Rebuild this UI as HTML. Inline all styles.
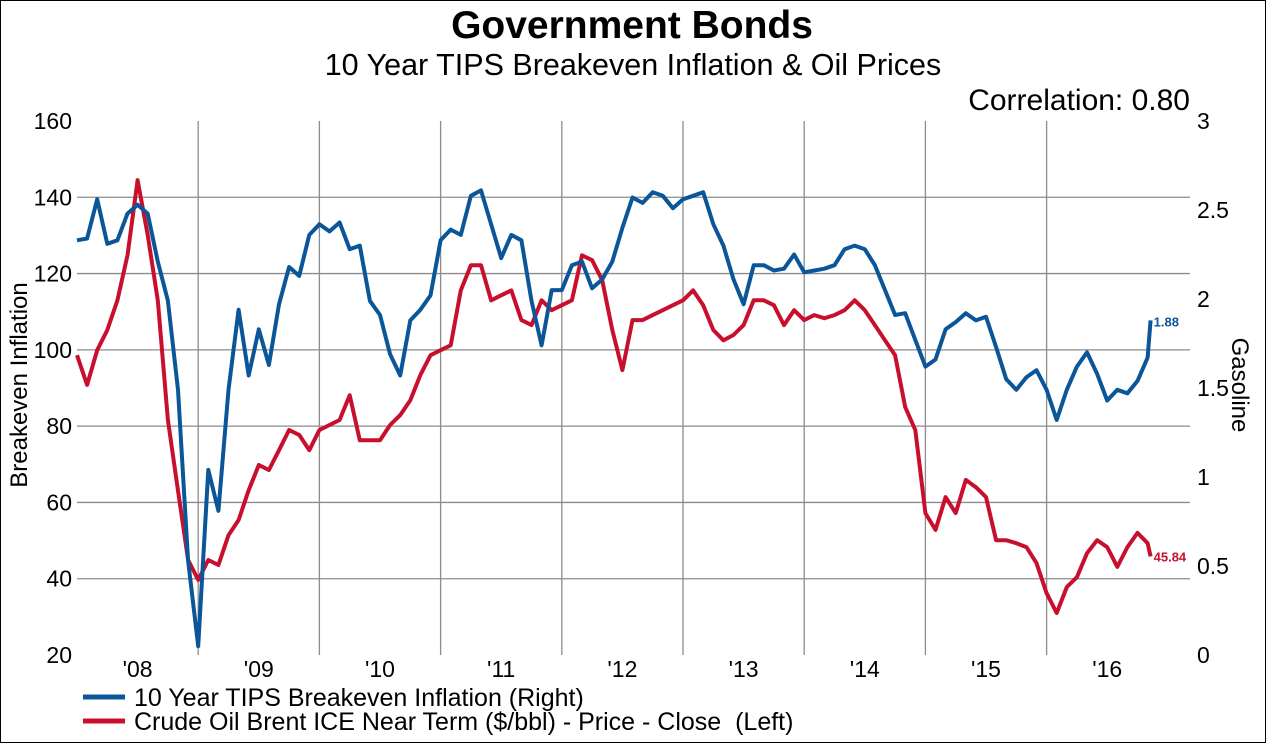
<!DOCTYPE html>
<html><head><meta charset="utf-8"><style>
body{margin:0;background:#fff}
svg{display:block;font-family:"Liberation Sans",Arial,sans-serif}
</style></head><body>
<svg id="chart" width="1266" height="743" viewBox="0 0 1266 743" xmlns="http://www.w3.org/2000/svg">
<rect x="0.5" y="0.5" width="1265" height="742" fill="#fff" stroke="#000"/>
<text x="632" y="38" text-anchor="middle" font-size="39" font-weight="bold">Government Bonds</text>
<text x="633" y="75" text-anchor="middle" font-size="30.5">10 Year TIPS Breakeven Inflation &amp; Oil Prices</text>
<text x="1190" y="110" text-anchor="end" font-size="30">Correlation: 0.80</text>
<g id="grid"></g>
<g id="axes"></g>
<g id="series"></g>
<text transform="translate(27,385) rotate(-90)" text-anchor="middle" font-size="24">Breakeven Inflation</text>
<text transform="translate(1232,385) rotate(90)" text-anchor="middle" font-size="24">Gasoline</text>
<g>
<line x1="83" y1="697" x2="125" y2="697" stroke="#0a5699" stroke-width="5"/>
<text x="134" y="706" font-size="25">10 Year TIPS Breakeven Inflation (Right)</text>
<line x1="83" y1="721" x2="125" y2="721" stroke="#c8102e" stroke-width="5"/>
<text x="134" y="730" font-size="25">Crude Oil Brent ICE Near Term ($/bbl) - Price - Close &#160;(Left)</text>
</g>
</svg>
<script>
const tipsValues=[2.33,2.34,2.56,2.31,2.33,2.48,2.53,2.48,2.21,1.99,1.49,0.53,0.05,1.04,0.81,1.49,1.94,1.57,1.83,1.63,1.97,2.18,2.13,2.36,2.42,2.38,2.43,2.28,2.30,1.99,1.91,1.69,1.57,1.88,1.94,2.02,2.33,2.39,2.36,2.58,2.61,2.42,2.23,2.36,2.33,1.99,1.74,2.05,2.05,2.19,2.21,2.06,2.11,2.21,2.40,2.57,2.54,2.60,2.58,2.51,2.56,2.58,2.60,2.42,2.30,2.11,1.97,2.19,2.19,2.16,2.17,2.25,2.15,2.16,2.17,2.19,2.28,2.30,2.28,2.19,2.05,1.91,1.92,1.77,1.62,1.66,1.83,1.87,1.92,1.88,1.90,1.73,1.55,1.49,1.56,1.60,1.49,1.32,1.49,1.62,1.70,1.58,1.43,1.49,1.47,1.54,1.67,1.88];
const oilValues=[98.6,90.8,99.9,105.2,113.0,124.8,144.5,130.1,113.0,81.6,63.1,44.9,39.7,44.9,43.6,51.4,55.4,63.2,69.8,68.5,73.7,79.0,77.7,73.7,79.0,80.3,81.6,88.1,76.3,76.3,76.3,80.3,82.9,86.8,93.4,98.6,99.9,101.2,115.6,122.2,122.2,113.0,114.3,115.6,107.8,106.5,113.0,110.4,111.7,113.0,124.8,123.5,118.3,105.2,94.7,107.8,107.8,109.1,110.4,111.7,113.0,115.6,111.7,105.2,102.5,103.9,106.5,113.0,113.0,111.7,106.5,110.4,107.8,109.1,108.3,109.1,110.4,113.0,110.4,106.5,102.5,98.6,85.0,79.0,57.2,52.8,61.4,57.2,65.9,64.0,61.4,50.1,50.1,49.3,48.3,44.1,36.2,31.0,37.8,40.4,46.7,50.1,48.3,43.1,48.3,52.0,49.3,45.84];
const leftTicks=[20,40,60,80,100,120,140,160];
const rightTicks=["0","0.5","1","1.5","2","2.5","3"];
const yearLabels=["'08","'09","'10","'11","'12","'13","'14","'15","'16"];
const tipsLast="1.88", oilLast="45.84";

const NS="http://www.w3.org/2000/svg";
const X0=77,X1=1190,YT=121,YB=655;
const months=tipsValues.map((v,i)=> i<tipsValues.length-1? i : i-0.7);
function xs(m){return X0+m*10.1;}
function yl(v){return YB-(v-20)/140*(YB-YT);}
function yr(v){return YB-v/3*(YB-YT);}
function mk(tag,attrs,parent){const e=document.createElementNS(NS,tag);for(const k in attrs)e.setAttribute(k,attrs[k]);parent.appendChild(e);return e;}
const grid=document.getElementById('grid'),axes=document.getElementById('axes'),series=document.getElementById('series');
leftTicks.forEach((t,i)=>{
  if(i>0&&i<leftTicks.length-1){const l=mk('line',{x1:X0,x2:X1,y1:yl(t),y2:yl(t),stroke:'#8c8c8c','stroke-width':1.3},grid);
  
  }
  const tx=mk('text',{x:72,y:yl(t)+8,'text-anchor':'end','font-size':23},axes);tx.textContent=t;
  
  
});
rightTicks.forEach(t=>{
  const tx=mk('text',{x:1197,y:yr(parseFloat(t))+8,'font-size':23},axes);tx.textContent=t;
  
  
});
yearLabels.forEach((lab,i)=>{
  if(i>0){const l=mk('line',{x1:xs(i*12),x2:xs(i*12),y1:YT,y2:YB,stroke:'#8c8c8c','stroke-width':1.3},grid);
  
  }
  const tx=mk('text',{x:xs(i*12+6),y:677,'text-anchor':'middle','font-size':23},axes);tx.textContent=lab;
  
  
});
function path(vals,ys,color,name){
  const d=vals.map((v,i)=>(i?'L':'M')+xs(months[i]).toFixed(1)+','+ys(v).toFixed(1)).join('');
  const p=mk('path',{d:d,fill:'none',stroke:color,'stroke-width':4,'stroke-linejoin':'round'},series);
  
  
}
path(oilValues,yl,'#c8102e','oil-line');
path(tipsValues,yr,'#0a5699','tips-line');
const lt=mk('text',{x:xs(months[months.length-1])+3,y:yr(tipsValues[tipsValues.length-1])+6,'font-size':13,'font-weight':'bold',fill:'#0a5699'},series);
lt.textContent=tipsLast;


const lo=mk('text',{x:xs(months[months.length-1])+3,y:yl(oilValues[oilValues.length-1])+5,'font-size':13,'font-weight':'bold',fill:'#c8102e'},series);
lo.textContent=oilLast;


</script>
</body></html>
